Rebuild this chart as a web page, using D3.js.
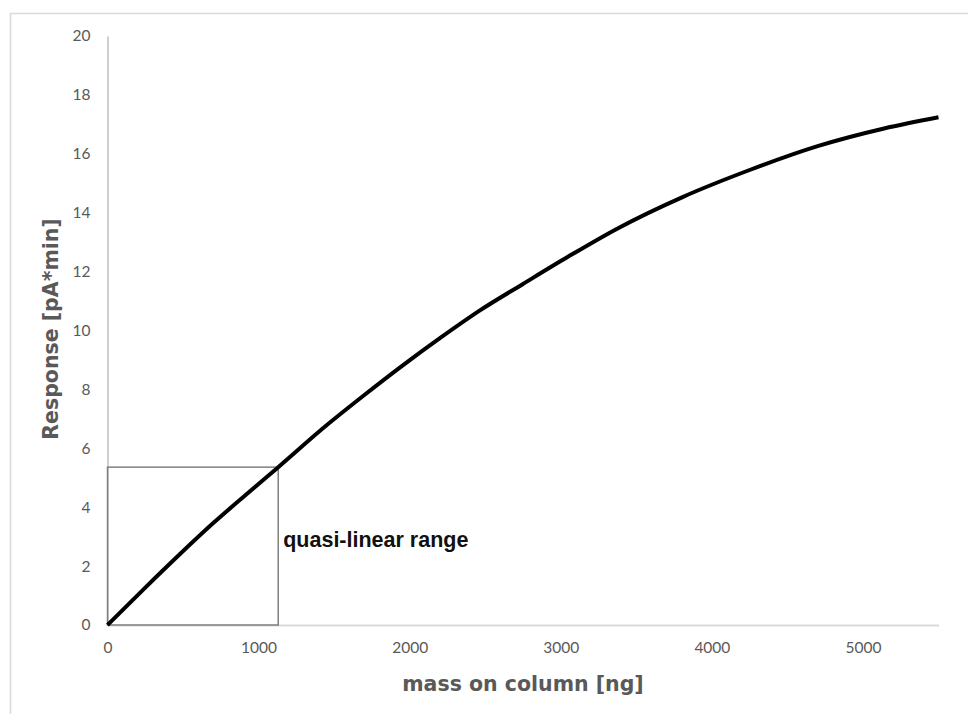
<!DOCTYPE html>
<html>
<head>
<meta charset="utf-8">
<script src="https://cdn.jsdelivr.net/npm/d3@7"></script>
<style>
  html, body { margin: 0; padding: 0; background: #fff; }
  svg { display: block; }
</style>
</head>
<body>
<svg id="chart" width="968" height="714"></svg>
<script>
// Detector response vs. mass injected on column
const massNg = [0, 240, 480, 700, 920, 1130, 1440, 1700, 1950, 2200, 2470, 2750, 3050, 3370, 3810, 4250, 4700, 5140, 5500];
const responsePAmin = [0, 1.22, 2.41, 3.46, 4.44, 5.36, 6.74, 7.81, 8.80, 9.74, 10.70, 11.58, 12.51, 13.45, 14.54, 15.45, 16.26, 16.86, 17.24];

// Upper-right corner of the quasi-linear region
const quasiLinearMass = 1130;
const quasiLinearResponse = 5.36;

const xTicks = [0, 1000, 2000, 3000, 4000, 5000];
const yTicks = [0, 2, 4, 6, 8, 10, 12, 14, 16, 18, 20];

const svg = d3.select("#chart");

// Outer chart frame
svg.append("rect")
  .attr("x", 10.5).attr("y", 13.5)
  .attr("width", 1000).attr("height", 800)
  .attr("fill", "none")
  .attr("stroke", "#d9d9d9")
  .attr("stroke-width", 1.5);

const plotLeft = 107.5, plotRight = 938.5, plotTop = 36, plotBottom = 625;

const x = d3.scaleLinear().domain([0, 5500]).range([plotLeft, plotRight]);
const y = d3.scaleLinear().domain([0, 20]).range([plotBottom, plotTop]);

const labelFont = "Lato, 'Open Sans', sans-serif";
const titleFont = "'DejaVu Sans', Verdana, sans-serif";

// Y axis
const yAxis = svg.append("g")
  .attr("transform", `translate(${plotLeft},0)`)
  .call(d3.axisLeft(y).tickValues(yTicks).tickSize(0).tickPadding(17).tickFormat(d3.format("d")));
yAxis.select(".domain").attr("stroke", "#bfbfbf").attr("stroke-width", 1.5);
yAxis.selectAll("text")
  .attr("fill", "#595959")
  .style("font-family", labelFont)
  .style("font-size", "15.5px");

// X axis
const xAxis = svg.append("g")
  .attr("transform", `translate(0,${plotBottom})`)
  .call(d3.axisBottom(x).tickValues(xTicks).tickSize(0).tickPadding(17).tickFormat(d3.format("d")));
xAxis.select(".domain").attr("stroke", "#d9d9d9").attr("stroke-width", 2);
xAxis.selectAll("text")
  .attr("fill", "#595959")
  .style("font-family", labelFont)
  .style("font-size", "15.5px");

// Axis titles
svg.append("text")
  .attr("x", 523)
  .attr("y", 691)
  .attr("text-anchor", "middle")
  .attr("fill", "#595959")
  .style("font-family", titleFont)
  .style("font-weight", "bold")
  .style("font-size", "20.5px")
  .text("mass on column [ng]");

svg.append("text")
  .attr("transform", `translate(58,329) rotate(-90)`)
  .attr("text-anchor", "middle")
  .attr("fill", "#595959")
  .style("font-family", titleFont)
  .style("font-weight", "bold")
  .style("font-size", "20.5px")
  .text("Response [pA*min]");

// Quasi-linear region box
svg.append("rect")
  .attr("x", x(0))
  .attr("y", y(quasiLinearResponse))
  .attr("width", x(quasiLinearMass) - x(0))
  .attr("height", y(0) - y(quasiLinearResponse))
  .attr("fill", "none")
  .attr("stroke", "#808080")
  .attr("stroke-width", 1.5);

svg.append("text")
  .attr("x", x(quasiLinearMass) + 5)
  .attr("y", 547)
  .attr("fill", "#111")
  .style("font-family", "'Liberation Sans', Arial, sans-serif")
  .style("font-weight", "bold")
  .style("font-size", "21.5px")
  .text("quasi-linear range");

// Response curve
const line = d3.line()
  .x((d, i) => x(massNg[i]))
  .y((d, i) => y(responsePAmin[i]))
  .curve(d3.curveMonotoneX);

svg.append("path")
  .datum(massNg)
  .attr("d", line)
  .attr("fill", "none")
  .attr("stroke", "#000")
  .attr("stroke-width", 4)
  .attr("stroke-linecap", "butt");
</script>
</body>
</html>
